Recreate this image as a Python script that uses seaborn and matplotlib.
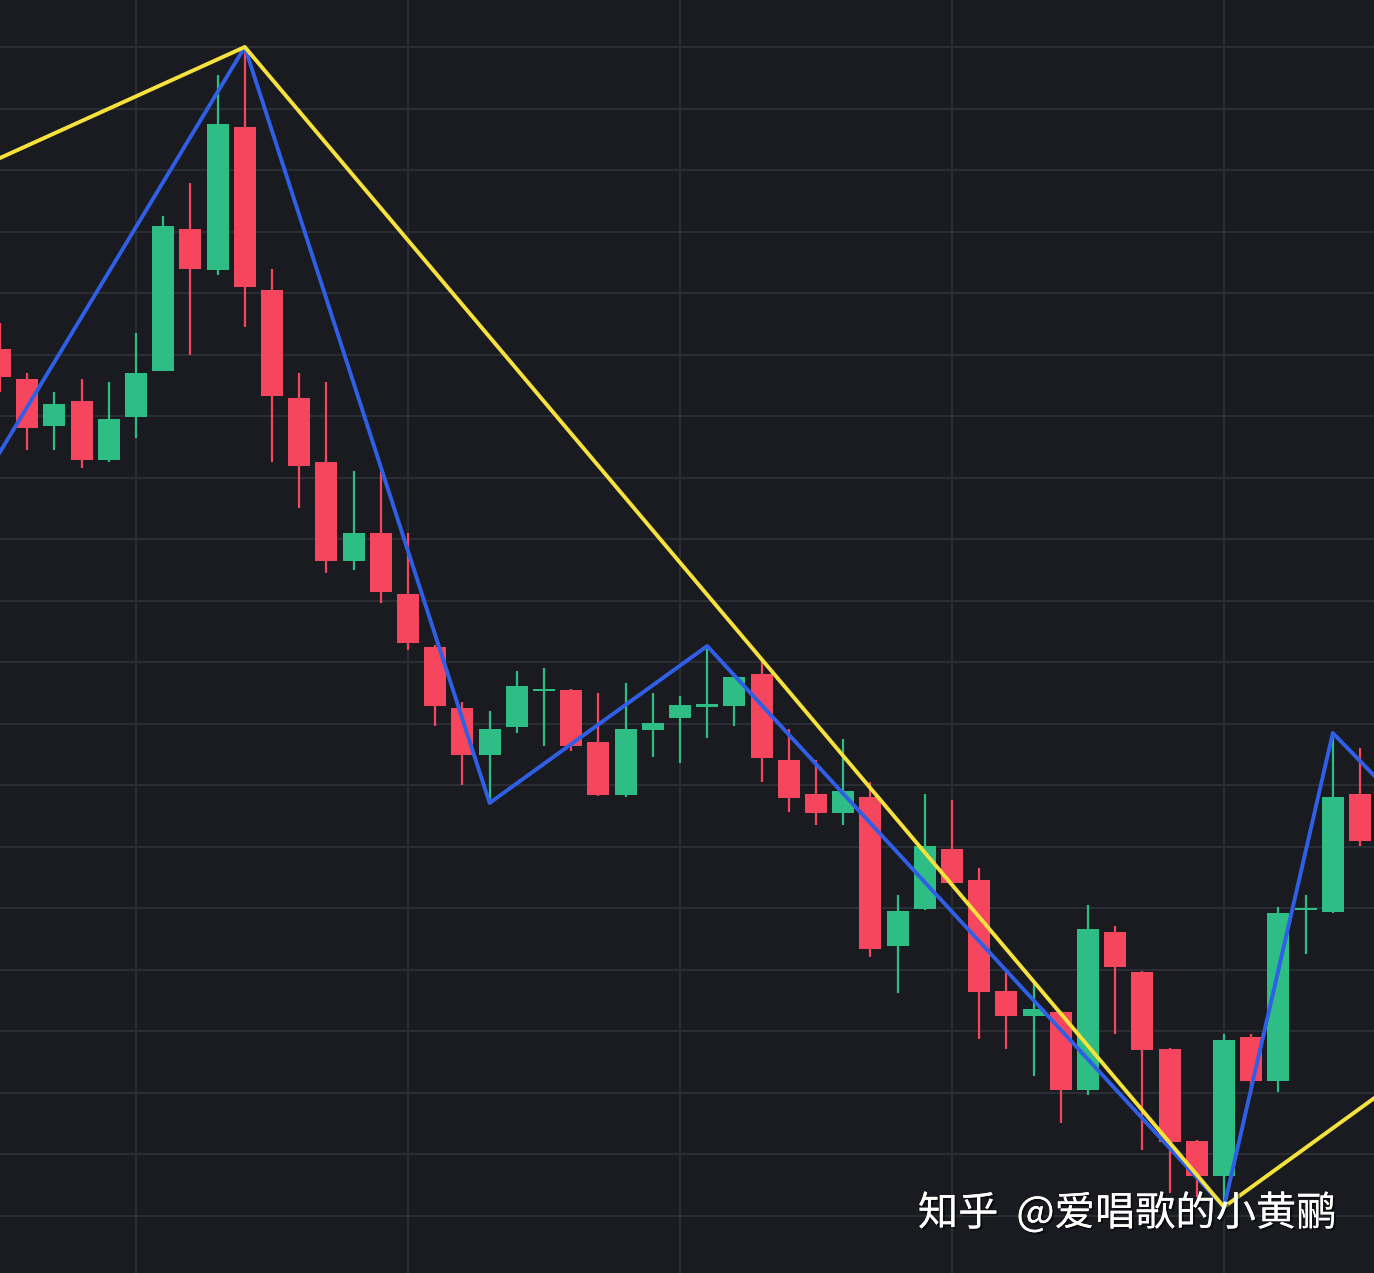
import matplotlib.pyplot as plt
import matplotlib.patheffects as pe
import numpy as np
import pandas as pd
import seaborn as sns

# OHLC per session (arbitrary price units)
opens = [951, 921, 874, 899, 840, 883, 929, 1071, 1030, 1173,
         1010, 902, 838, 739, 767, 706, 653, 592, 545, 573,
         609, 610, 558, 505, 570, 582, 594, 594, 626, 540,
         506, 487, 503, 354, 391, 451, 420, 309, 284, 288,
         210, 368, 328, 251, 159, 124, 263, 219, 390, 388, 506]
highs = [977, 927, 908, 921, 918, 967, 1084, 1117, 1225, 1253,
         1031, 927, 918, 829, 829, 767, 655, 598, 589, 629,
         632, 611, 607, 617, 607, 604, 654, 625, 641, 571,
         540, 561, 518, 405, 506, 500, 432, 328, 316, 289,
         395, 374, 329, 252, 160, 266, 266, 393, 405, 567, 552]
lows = [908, 850, 850, 832, 838, 862, 929, 945, 1025, 973,
        838, 792, 727, 730, 697, 650, 574, 515, 497, 567,
        554, 549, 504, 503, 543, 537, 562, 574, 518, 488,
        475, 475, 343, 307, 390, 416, 261, 251, 224, 177,
        205, 266, 150, 107, 103, 93, 205, 208, 346, 387, 454]
closes = [923, 872, 896, 840, 881, 927, 1074, 1031, 1176, 1013,
          904, 834, 739, 767, 708, 657, 594, 545, 571, 614,
          611, 554, 505, 571, 577, 595, 595, 623, 542, 502,
          487, 509, 351, 389, 454, 417, 308, 284, 291, 210,
          371, 333, 250, 158, 124, 260, 219, 387, 392, 503, 459]

# zigzag pivots (bar index, price); first/last pivots lie outside the view
blue_bars = [-1, 9, 18, 26, 45, 49, 51]
blue_prices = [803, 1253, 497, 654, 93, 567, 511]
yellow_bars = [-6, 9, 45, 52]
yellow_prices = [1068, 1253, 93, 231]

watermark = '知乎  @爱唱歌的小黄鹂'

BG = '#1a1b20'
GRID = '#2b2e34'
GREEN = '#2ebd85'
RED = '#f6465d'
BLUE = '#2f5fe6'
YELLOW = '#f6e23c'

sns.set_style('dark', rc={'axes.facecolor': BG, 'figure.facecolor': BG,
                          'grid.color': GRID})
plt.rcParams['font.family'] = ['Noto Sans CJK SC', 'DejaVu Sans']

df = pd.DataFrame(dict(open=opens, high=highs, low=lows, close=closes))
df['bar'] = np.arange(len(df))
df['color'] = np.where(df['close'] >= df['open'], GREEN, RED)
raw_h = (df['close'] - df['open']).abs()
body_h = raw_h.clip(lower=2.5)
body_lo = df[['open', 'close']].min(axis=1) - (body_h - raw_h) / 2

fig = plt.figure(figsize=(13.74, 12.73), dpi=100)
ax = fig.add_axes([0, 0, 1, 1])

# candles
ax.vlines(df['bar'], df['low'], df['high'], colors=df['color'],
          linewidth=1.6, zorder=2)
ax.bar(df['bar'], body_h, bottom=body_lo, width=0.81,
       color=df['color'], linewidth=0, zorder=3)

# zigzag lines
zz_blue = pd.DataFrame(dict(bar=blue_bars, price=blue_prices))
zz_yellow = pd.DataFrame(dict(bar=yellow_bars, price=yellow_prices))
sns.lineplot(data=zz_blue, x='bar', y='price', sort=False, estimator=None,
             color=BLUE, linewidth=2.8, ax=ax, zorder=4)
sns.lineplot(data=zz_yellow, x='bar', y='price', sort=False, estimator=None,
             color=YELLOW, linewidth=2.8, ax=ax, zorder=5)

ax.set_xlim(0, 1374 / 27.2)
ax.set_ylim(27, 1300)
ax.set_xticks([5, 15, 25, 35, 45])
ax.set_yticks(np.arange(84.5, 1300, 61.5))
ax.grid(True, color=GRID, linewidth=1.4)
ax.set_axisbelow(True)
ax.tick_params(length=0, labelbottom=False, labelleft=False)
ax.set_xlabel('')
ax.set_ylabel('')
for s in ax.spines.values():
    s.set_visible(False)

fig.text(0.668, 0.047, watermark, color='white', fontsize=29,
         ha='left', va='center', zorder=10,
         path_effects=[pe.withSimplePatchShadow(offset=(1.5, -1.5),
                                                shadow_rgbFace='black',
                                                alpha=0.5),
                       pe.Normal()])

fig.savefig('out.png', dpi=100, facecolor=BG)
